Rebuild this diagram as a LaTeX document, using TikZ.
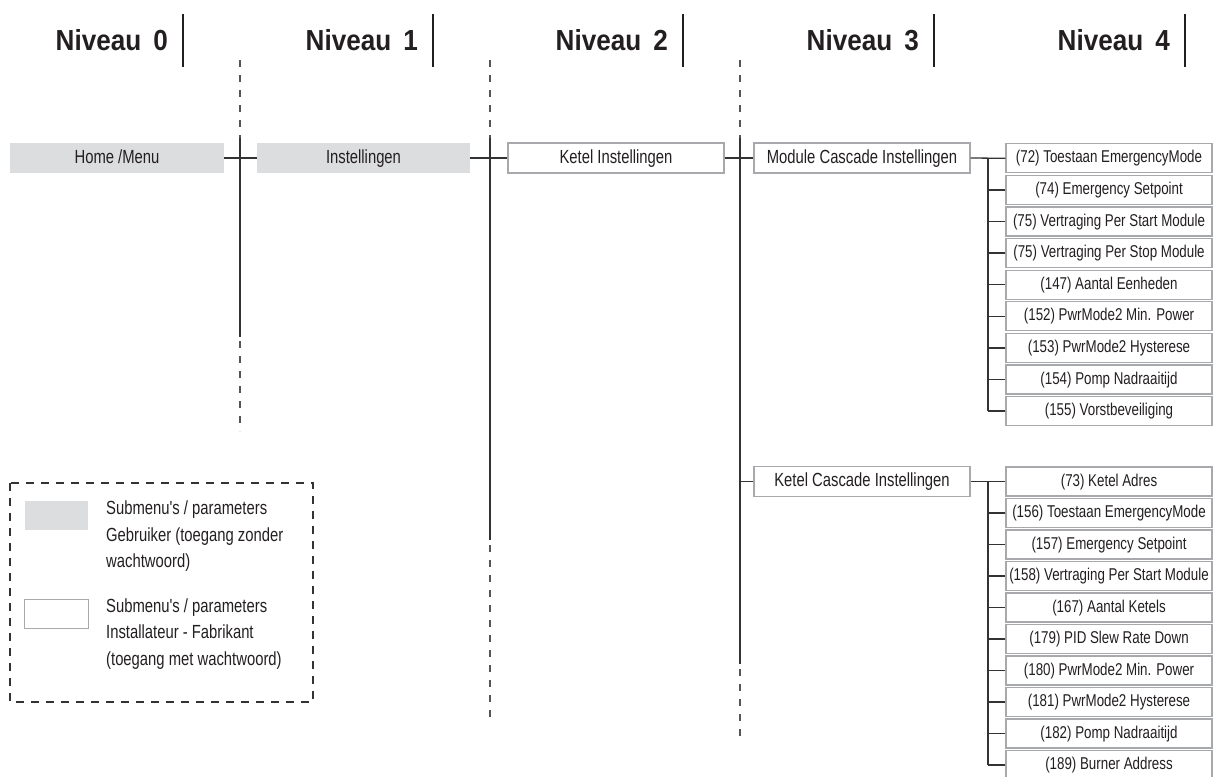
\documentclass[tikz,border=0pt]{standalone}
\usepackage{fontspec}
\newfontfamily\boxfont[FakeStretch=0.78]{Liberation Sans}
\newfontfamily\headfont[FakeStretch=0.9]{Liberation Sans Bold}
\definecolor{boxgray}{HTML}{DCDDDE}
\definecolor{bordergray}{HTML}{A7A9AC}
\definecolor{linecol}{HTML}{333333}
\definecolor{dashcol}{HTML}{555555}
\definecolor{textcol}{HTML}{231F20}
\begin{document}
\begin{tikzpicture}[x=1pt,y=-1pt,
  gbox/.style={fill=boxgray, draw=none, minimum height=30pt, inner sep=0pt,
    font=\boxfont\fontsize{19}{21}\selectfont, text=textcol,
    text height=13.6pt, text depth=3.2pt},
  wbox/.style={gbox, fill=white, draw=bordergray, line width=1.2pt},
  pbox/.style={wbox, minimum width=206pt, minimum height=29pt,
    font=\boxfont\fontsize{17.1}{19}\selectfont, text height=12.2pt, text depth=2.9pt},
  conn/.style={draw=linecol, line width=1.3pt},
  guidedash/.style={draw=dashcol, line width=1.3pt, dash pattern=on 7pt off 8pt},
  head/.style={font=\headfont\fontsize{29}{32}\selectfont, anchor=base east, inner sep=0pt, text=textcol},
  hbar/.style={draw=textcol, line width=2.4pt},
  legtext/.style={font=\boxfont\fontsize{19}{26.5}\selectfont, text=textcol, anchor=north west, align=left, inner sep=0pt},
  legdash/.style={draw=linecol, line width=1.2pt, dash pattern=on 8pt off 7pt}
]
\useasboundingbox (0,0) rectangle (1214,776);

% headers
\foreach \n/\xe in {0/168,1/418,2/668,3/919,4/1170}{
  \node[head] (h\n) at (\xe,51) {Niveau\hspace{12pt}\n};
  \draw[hbar] (\xe+15,14) -- (\xe+15,67);
}

% guide lines
\coordinate (t1) at (240,138);
\coordinate (t2) at (490,138);
\coordinate (t3) at (740,138);
\draw[guidedash] (240,60) -- (t1);
\draw[conn] (t1) -- (240,337);
\draw[guidedash] (240,341) -- (240,431);
\draw[guidedash] (490,60) -- (t2);
\draw[conn] (t2) -- (490,540);
\draw[guidedash] (490,545) -- (490,721);
\draw[guidedash] (740,60) -- (t3);
\draw[conn] (t3) -- (740,664);
\draw[guidedash] (740,669) -- (740,739);

% main boxes
\node[gbox, minimum width=214pt] (home) at (117,158) {Home /Menu};
\node[gbox, minimum width=213pt] (inst) at (363.5,158) {Instellingen};
\node[wbox, minimum width=216pt] (ketel) at (616,158) {Ketel Instellingen};
\node[wbox, minimum width=216pt] (mod) at (862,158) {Module Cascade Instellingen};
\node[wbox, minimum width=216pt] (kc) at (862,481.5) {Ketel Cascade Instellingen};

\draw[conn] (home.east) -- (inst.west);
\draw[conn] (inst.east) -- (ketel.west);
\draw[conn] (ketel.east) -- (mod.west);
\draw[conn] (kc.west) -- (kc.west -| t3);

% level 4 (module)
\coordinate (bm) at (988,0);
\foreach \t [count=\i from 0] in {{(72) Toestaan EmergencyMode},{(74) Emergency Setpoint},{(75) Vertraging Per Start Module},{(75) Vertraging Per Stop Module},{(147) Aantal Eenheden},{(152) PwrMode2 Min. Power},{(153) PwrMode2 Hysterese},{(154) Pomp Nadraaitijd},{(155) Vorstbeveiliging}}{
  \node[pbox] (p\i) at (1109,158.3+31.6*\i) {\t};
  \draw[conn] (p\i.west) -- (p\i.west -| bm);
}
\draw[conn] (mod.east) -- (p0.west);
\draw[conn] (p0.west -| bm) -- (p8.west -| bm);

% level 4 (ketel)
\foreach \t [count=\i from 0] in {{(73) Ketel Adres},{(156) Toestaan EmergencyMode},{(157) Emergency Setpoint},{(158) Vertraging Per Start Module},{(167) Aantal Ketels},{(179) PID Slew Rate Down},{(180) PwrMode2 Min. Power},{(181) PwrMode2 Hysterese},{(182) Pomp Nadraaitijd},{(189) Burner Address}}{
  \node[pbox] (q\i) at (1109,481.5+31.5*\i) {\t};
  \draw[conn] (q\i.west) -- (q\i.west -| bm);
}
\draw[conn] (kc.east) -- (q0.west);
\draw[conn] (q0.west -| bm) -- (q9.west -| bm);

% legend
\draw[legdash] (10,483) rectangle (313,702);
\node[gbox, minimum width=63pt, minimum height=29pt] (s1) at (56.5,515.5) {};
\node[wbox, minimum width=64pt, minimum height=29pt] (s2) at (56.5,614) {};
\node[legtext] (l1) at (106,501) {Submenu's / parameters\\Gebruiker (toegang zonder\\wachtwoord)};
\node[legtext] (l2) at (106,598.5) {Submenu's / parameters\\Installateur - Fabrikant\\(toegang met wachtwoord)};
\end{tikzpicture}
\end{document}
